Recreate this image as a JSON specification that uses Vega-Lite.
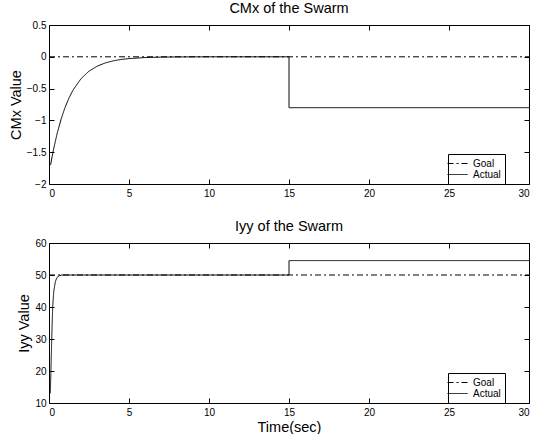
{
  "$schema": "https://vega.github.io/schema/vega-lite/v6.json",
  "padding": {"left": 8, "top": 0, "right": 4, "bottom": 0},
  "config": {
    "font": "Liberation Sans",
    "view": {"stroke": null},
    "axis": {"grid": false, "domainColor": "black", "domainWidth": 1, "tickColor": "black", "tickSize": -5, "labelColor": "black", "labelFontSize": 10, "labelFont": "Liberation Sans", "titleFont": "Liberation Sans", "titleFontSize": 14.5, "titleFontWeight": "normal", "titleColor": "black", "titlePadding": 3},
    "axisX": {"labelPadding": 9},
    "axisY": {"labelPadding": 8},
    "title": {"fontSize": 14.5, "fontWeight": "normal", "font": "Liberation Sans", "color": "black", "offset": 4},
    "legend": {"orient": "none", "legendX": 399, "strokeColor": "black", "fillColor": "white", "padding": 4, "labelFontSize": 10, "labelColor": "black", "symbolType": "M-2,0H2", "symbolStrokeColor": "black", "symbolSize": 100, "symbolStrokeWidth": 1, "rowPadding": 0, "labelOffset": 10, "cornerRadius": 0},
    "concat": {"spacing": 20}
  },
  "datasets": {
    "cmx": [
      {"t": 0, "v": 0, "s": "Goal", "o": 0},
      {"t": 30, "v": 0, "s": "Goal", "o": 1},
      {"t": 0.1, "v": -1.7, "s": "Actual", "o": 0},
      {"t": 0.2, "v": -1.563, "s": "Actual", "o": 1},
      {"t": 0.3, "v": -1.437, "s": "Actual", "o": 2},
      {"t": 0.5, "v": -1.215, "s": "Actual", "o": 3},
      {"t": 0.75, "v": -0.985, "s": "Actual", "o": 4},
      {"t": 1.0, "v": -0.798, "s": "Actual", "o": 5},
      {"t": 1.25, "v": -0.647, "s": "Actual", "o": 6},
      {"t": 1.5, "v": -0.524, "s": "Actual", "o": 7},
      {"t": 2.0, "v": -0.344, "s": "Actual", "o": 8},
      {"t": 2.5, "v": -0.226, "s": "Actual", "o": 9},
      {"t": 3.0, "v": -0.149, "s": "Actual", "o": 10},
      {"t": 3.5, "v": -0.098, "s": "Actual", "o": 11},
      {"t": 4.0, "v": -0.064, "s": "Actual", "o": 12},
      {"t": 4.5, "v": -0.042, "s": "Actual", "o": 13},
      {"t": 5.0, "v": -0.028, "s": "Actual", "o": 14},
      {"t": 6.0, "v": -0.012, "s": "Actual", "o": 15},
      {"t": 7.0, "v": -0.005, "s": "Actual", "o": 16},
      {"t": 8.0, "v": -0.002, "s": "Actual", "o": 17},
      {"t": 10.0, "v": 0, "s": "Actual", "o": 18},
      {"t": 15.0, "v": 0, "s": "Actual", "o": 19},
      {"t": 15.0, "v": -0.8, "s": "Actual", "o": 20},
      {"t": 30.0, "v": -0.8, "s": "Actual", "o": 21}
    ],
    "iyy": [
      {"t": 0, "v": 50, "s": "Goal", "o": 0},
      {"t": 30, "v": 50, "s": "Goal", "o": 1},
      {"t": 0.08, "v": 13, "s": "Actual", "o": 0},
      {"t": 0.12, "v": 20, "s": "Actual", "o": 1},
      {"t": 0.17, "v": 30, "s": "Actual", "o": 2},
      {"t": 0.23, "v": 40, "s": "Actual", "o": 3},
      {"t": 0.3, "v": 45, "s": "Actual", "o": 4},
      {"t": 0.4, "v": 48, "s": "Actual", "o": 5},
      {"t": 0.5, "v": 49.2, "s": "Actual", "o": 6},
      {"t": 0.65, "v": 49.8, "s": "Actual", "o": 7},
      {"t": 0.8, "v": 50, "s": "Actual", "o": 8},
      {"t": 15, "v": 50, "s": "Actual", "o": 9},
      {"t": 15, "v": 54.5, "s": "Actual", "o": 10},
      {"t": 30, "v": 54.5, "s": "Actual", "o": 11}
    ]
  },
  "vconcat": [
    {
      "title": "CMx of the Swarm",
      "width": 480,
      "height": 159,
      "data": {"name": "cmx"},
      "layer": [
        {
          "mark": {"type": "line", "color": "black", "strokeWidth": 1},
          "encoding": {
            "x": {"field": "t", "type": "quantitative", "scale": {"domain": [0, 30], "nice": false}, "axis": {"title": null, "values": [0, 5, 10, 15, 20, 25, 30]}},
            "y": {"field": "v", "type": "quantitative", "scale": {"domain": [-2, 0.5], "nice": false}, "axis": {"title": "CMx Value", "values": [-2, -1.5, -1, -0.5, 0, 0.5], "format": "~g"}},
            "strokeDash": {"field": "s", "type": "nominal", "scale": {"domain": ["Goal", "Actual"], "range": [[6, 3, 2, 3], [1, 0]]}, "legend": {"title": null, "legendY": 129}},
            "order": {"field": "o", "type": "quantitative"}
          }
        },
        {
          "mark": {"type": "line", "opacity": 0},
          "encoding": {
            "x": {"field": "t", "type": "quantitative", "axis": {"orient": "top", "labels": false, "title": null, "values": [0, 5, 10, 15, 20, 25, 30]}},
            "y": {"field": "v", "type": "quantitative", "axis": {"orient": "right", "labels": false, "title": null, "values": [-2, -1.5, -1, -0.5, 0, 0.5]}},
            "detail": {"field": "s"},
            "order": {"field": "o", "type": "quantitative"}
          }
        }
      ],
      "resolve": {"axis": {"x": "independent", "y": "independent"}}
    },
    {
      "title": "Iyy of the Swarm",
      "width": 480,
      "height": 160,
      "data": {"name": "iyy"},
      "layer": [
        {
          "mark": {"type": "line", "color": "black", "strokeWidth": 1},
          "encoding": {
            "x": {"field": "t", "type": "quantitative", "scale": {"domain": [0, 30], "nice": false}, "axis": {"title": "Time(sec)", "titlePadding": 3, "values": [0, 5, 10, 15, 20, 25, 30]}},
            "y": {"field": "v", "type": "quantitative", "scale": {"domain": [10, 60], "nice": false}, "axis": {"title": "Iyy Value", "values": [10, 20, 30, 40, 50, 60]}},
            "strokeDash": {"field": "s", "type": "nominal", "scale": {"domain": ["Goal", "Actual"], "range": [[6, 3, 2, 3], [1, 0]]}, "legend": {"title": null, "legendY": 130}},
            "order": {"field": "o", "type": "quantitative"}
          }
        },
        {
          "mark": {"type": "line", "opacity": 0},
          "encoding": {
            "x": {"field": "t", "type": "quantitative", "axis": {"orient": "top", "labels": false, "title": null, "values": [0, 5, 10, 15, 20, 25, 30]}},
            "y": {"field": "v", "type": "quantitative", "axis": {"orient": "right", "labels": false, "title": null, "values": [10, 20, 30, 40, 50, 60]}},
            "detail": {"field": "s"},
            "order": {"field": "o", "type": "quantitative"}
          }
        }
      ],
      "resolve": {"axis": {"x": "independent", "y": "independent"}}
    }
  ],
  "resolve": {"scale": {"strokeDash": "independent"}, "legend": {"strokeDash": "independent"}}
}
